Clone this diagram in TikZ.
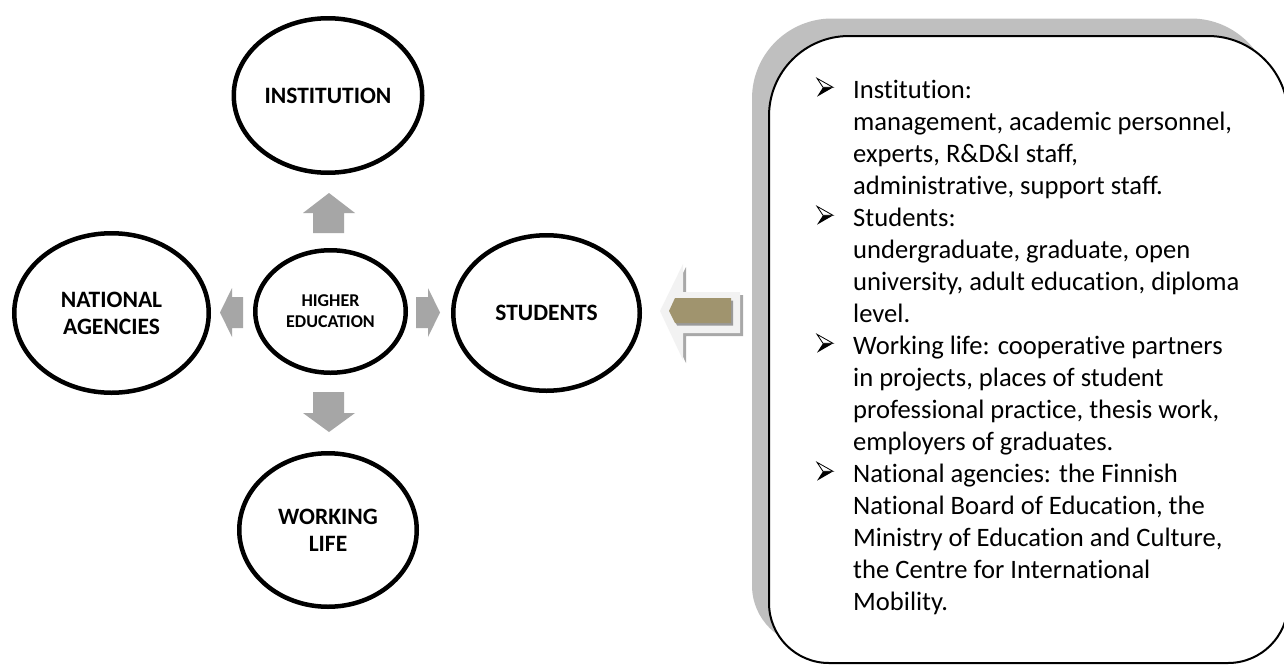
\documentclass[tikz,border=0pt]{standalone}
\usepackage{fontspec}
\setmainfont{Carlito}[Ligatures=NoCommon]
\usetikzlibrary{shapes.geometric}
\definecolor{arrowgray}{HTML}{A6A6A6}
\definecolor{panelgray}{HTML}{BFBFBF}
\definecolor{lightfill}{HTML}{F2F2F2}
\definecolor{shadowgray}{HTML}{A8A8A8}
\definecolor{tanshadow}{HTML}{9A9A9A}
\definecolor{tanfill}{HTML}{A0946E}
\begin{document}
\begin{tikzpicture}[x=1pt,y=-1pt,
  bubble/.style={ellipse, draw=black, line width=4.5pt, inner sep=0pt, align=center,
    font=\bfseries\fontsize{23.5}{27}\selectfont},
  smallbubble/.style={bubble, font=\bfseries\fontsize{18}{21}\selectfont},
  blockarrow/.style={fill=arrowgray},
  paneltext/.style={anchor=base west, inner sep=0pt, font=\fontsize{26.6}{32}\selectfont},
  bulletarrow/.pic={
    \filldraw[fill=white, draw=black, line width=0.8pt, line join=miter] (0,-20.4) -- (16,-11.4) -- (6,-11.4) -- cycle;
    \fill[black] (6,-11.4) -- (16.3,-11.4) -- (0,-2) -- cycle;},
  panelshape/.style={insert path={(769,350) -- (769,116) arc[start angle=180,end angle=270,radius=80]
     -- (1208,36) arc[start angle=270,end angle=360,radius=80]
     -- (1288,603) arc[start angle=0,end angle=90,radius=60]
     -- (829,663) arc[start angle=90,end angle=180,radius=60] -- cycle}},
  bigarrow/.style={insert path={(660,311) -- (683,264) -- (683,292) -- (740,292) -- (740,333) -- (683,333) -- (683,360) -- cycle}},
  tanarrow/.style={insert path={(669,311) -- (675,298) -- (731,298) -- (731,323) -- (675,323) -- cycle}}
]
\useasboundingbox (0,0) rectangle (1284,664);
\fill[white] (0,0) rectangle (1284,664);

% panel
\fill[panelgray, shift={(-17,-17.5)}, panelshape];
\draw[fill=white, line width=2pt, panelshape];

% big arrow
\fill[shadowgray, shift={(3,3)}, bigarrow];
\fill[lightfill, bigarrow];
\fill[tanshadow, shift={(2,2.5)}, tanarrow];
\fill[tanfill, tanarrow];

% ellipses
\node[bubble, minimum width=188.5pt, minimum height=154.5pt] (inst) at (328,95.5) {INSTITUTION};
\node[bubble, minimum width=186.5pt, minimum height=155.5pt] (stud) at (546.5,313) {STUDENTS};
\node[bubble, minimum width=177.5pt, minimum height=153.5pt] (work) at (328,530) {WORKING\\LIFE};
\node[bubble, minimum width=194.5pt, minimum height=159.5pt] (nat) at (111.5,313) {NATIONAL\\AGENCIES};
\node[smallbubble, minimum width=150.5pt, minimum height=122.5pt] (he) at (330.5,311.5) {HIGHER\\EDUCATION};

% block arrows
\fill[blockarrow] (329,193) -- (355,213) -- (344,213) -- (344,233) -- (313,233) -- (313,213) -- (303,213) -- cycle;
\fill[blockarrow] (329,432) -- (355,413) -- (344,413) -- (344,392) -- (313,392) -- (313,413) -- (303,413) -- cycle;
\fill[blockarrow] (220,312.5) -- (232,288) -- (232,297) -- (243,297) -- (243,328) -- (232,328) -- (232,337) -- cycle;
\fill[blockarrow] (440,312.5) -- (428,288) -- (428,297) -- (416,297) -- (416,328) -- (428,328) -- (428,337) -- cycle;

% panel text
\foreach \t [count=\i from 0] in {{Institution:},{management, academic personnel,},{experts, R\&D\&I staff,},{administrative, support staff.},{Students:},{undergraduate, graduate, open},{university, adult education, diploma},{level.},{Working life: cooperative partners},{in projects, places of student},{professional practice, thesis work,},{employers of graduates.},{National agencies: the Finnish},{National Board of Education, the},{Ministry of Education and Culture,},{the Centre for International},{Mobility.}}
  \node[paneltext] (line\i) at (853,98.7+32*\i) {\t};
\foreach \i in {0,4,8,12}
  \pic (bullet\i) at (817,98.7+32*\i) {bulletarrow};
\end{tikzpicture}
\end{document}
